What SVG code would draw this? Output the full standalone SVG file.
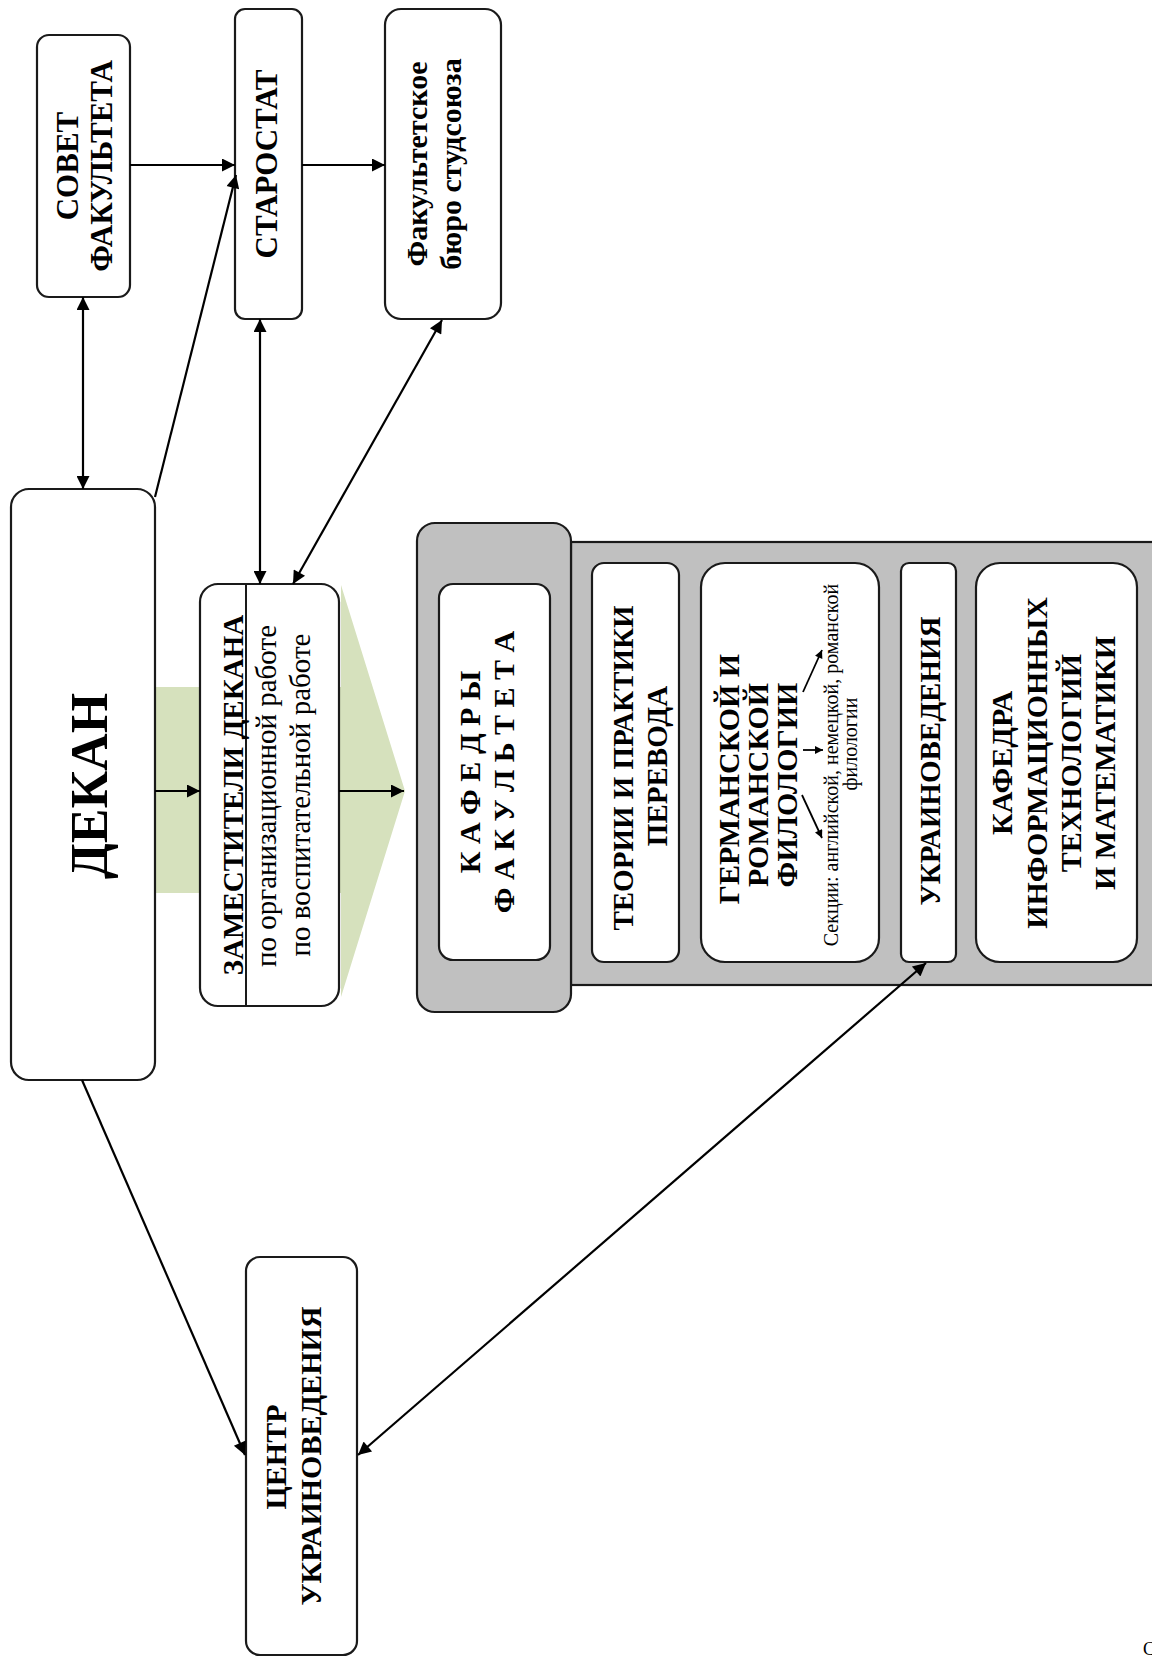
<svg xmlns="http://www.w3.org/2000/svg" width="1152" height="1657" viewBox="0 0 1152 1657">
<style>
.box{fill:#fff;stroke:#1a1a1a;stroke-width:2.2}
.panel{fill:#c0c0c0;stroke:#1a1a1a;stroke-width:2.2}
.t{font-family:"Liberation Serif","Times New Roman",serif;font-weight:bold;font-size:30px;fill:#000;text-anchor:middle}
.r{font-family:"Liberation Serif","Times New Roman",serif;font-size:29px;fill:#000;text-anchor:middle}
.s{font-family:"Liberation Serif","Times New Roman",serif;font-size:20px;fill:#000;text-anchor:middle}
.c{fill:none;stroke:#000;stroke-width:2.2}
.cs{fill:none;stroke:#000;stroke-width:1.8}
</style>
<defs>
<marker id="ah" viewBox="0 0 10 10" refX="10" refY="5" markerWidth="16" markerHeight="13" markerUnits="userSpaceOnUse" orient="auto-start-reverse"><path d="M0,0 L10,5 L0,10 z" fill="#000"/></marker>
<marker id="ahs" viewBox="0 0 10 10" refX="10" refY="5" markerWidth="9" markerHeight="8" markerUnits="userSpaceOnUse" orient="auto-start-reverse"><path d="M0,0 L10,5 L0,10 z" fill="#000"/></marker>
</defs>

<path id="green-arrow" d="M150,687 L341,687 L341,585 L405,791 L341,997 L341,893 L150,893 Z" fill="#d6e1bd"/>

<g id="panel">
<rect class="panel" x="571" y="542" width="600" height="443"/>
<rect class="panel" x="417" y="523" width="154" height="489" rx="18"/>
</g>

<g id="sovet">
<rect class="box" x="37" y="35" width="93" height="262" rx="12"/>
<text class="t" style="font-size:31px" transform="translate(78,166) rotate(-90)">СОВЕТ</text>
<text class="t" style="font-size:31px" transform="translate(112,166) rotate(-90)">ФАКУЛЬТЕТА</text>
</g>

<g id="starostat">
<rect class="box" x="235" y="9" width="67" height="310" rx="10"/>
<text class="t" style="font-size:31px" transform="translate(277,164) rotate(-90)">СТАРОСТАТ</text>
</g>

<g id="buro">
<rect class="box" x="385" y="9" width="116" height="310" rx="16"/>
<text class="t" transform="translate(427,164) rotate(-90)">Факультетское</text>
<text class="t" transform="translate(461,164) rotate(-90)">бюро студсоюза</text>
</g>

<g id="dekan">
<rect class="box" x="11" y="489" width="144" height="591" rx="18"/>
<text class="t" style="font-size:52px" transform="translate(107,786) rotate(-90)">ДЕКАН</text>
</g>

<g id="zam">
<rect class="box" x="200" y="584" width="139" height="422" rx="18"/>
<line x1="246" y1="584" x2="246" y2="1006" stroke="#1a1a1a" stroke-width="2"/>
<text class="t" style="font-size:29px" transform="translate(243,795) rotate(-90)">ЗАМЕСТИТЕЛИ ДЕКАНА</text>
<text class="r" transform="translate(276,796) rotate(-90)">по организационной работе</text>
<text class="r" transform="translate(310,795) rotate(-90)">по воспитательной работе</text>
</g>

<g id="kafedry">
<rect class="box" x="439" y="584" width="111" height="376" rx="14"/>
<text class="t" transform="translate(480,772) rotate(-90)">К А Ф Е Д Р Ы</text>
<text class="t" transform="translate(514,772) rotate(-90)">Ф А К У Л Ь Т Е Т А</text>
</g>

<g id="teorii">
<rect class="box" x="592" y="563" width="87" height="399" rx="12"/>
<text class="t" style="font-size:29px" transform="translate(633,768) rotate(-90)">ТЕОРИИ И ПРАКТИКИ</text>
<text class="t" style="font-size:29px" transform="translate(667,766) rotate(-90)">ПЕРЕВОДА</text>
</g>

<g id="german">
<rect class="box" x="701" y="563" width="178" height="399" rx="24"/>
<text class="t" transform="translate(739,779) rotate(-90)">ГЕРМАНСКОЙ И</text>
<text class="t" transform="translate(768,785) rotate(-90)">РОМАНСКОЙ</text>
<text class="t" transform="translate(797,785) rotate(-90)">ФИЛОЛОГИИ</text>
<text class="s" transform="translate(838,765) rotate(-90)">Секции: английской, немецкой, романской</text>
<text class="s" transform="translate(857,744) rotate(-90)">филологии</text>
<line class="cs" x1="803" y1="692" x2="822" y2="650" marker-end="url(#ahs)"/>
<line class="cs" x1="803" y1="750" x2="823" y2="750" marker-end="url(#ahs)"/>
<line class="cs" x1="802" y1="795" x2="822" y2="838" marker-end="url(#ahs)"/>
</g>

<g id="ukr">
<rect class="box" x="901" y="563" width="55" height="399" rx="8"/>
<text class="t" style="font-size:29px" transform="translate(940,761) rotate(-90)">УКРАИНОВЕДЕНИЯ</text>
</g>

<g id="inf">
<rect class="box" x="976" y="563" width="161" height="399" rx="24"/>
<text class="t" transform="translate(1012,763) rotate(-90)">КАФЕДРА</text>
<text class="t" transform="translate(1047,763) rotate(-90)">ИНФОРМАЦИОННЫХ</text>
<text class="t" transform="translate(1081,763) rotate(-90)">ТЕХНОЛОГИЙ</text>
<text class="t" transform="translate(1115,763) rotate(-90)">И МАТЕМАТИКИ</text>
</g>

<g id="centr">
<rect class="box" x="246" y="1257" width="111" height="398" rx="14"/>
<text class="t" transform="translate(286,1457) rotate(-90)">ЦЕНТР</text>
<text class="t" transform="translate(321,1456) rotate(-90)">УКРАИНОВЕДЕНИЯ</text>
</g>

<g id="connectors">
<line class="c" x1="83" y1="297" x2="83" y2="489" marker-start="url(#ah)" marker-end="url(#ah)"/>
<line class="c" x1="130" y1="165" x2="235" y2="165" marker-end="url(#ah)"/>
<line class="c" x1="302" y1="165" x2="385" y2="165" marker-end="url(#ah)"/>
<line class="c" x1="155" y1="497" x2="236" y2="175" marker-end="url(#ah)"/>
<line class="c" x1="260" y1="319" x2="260" y2="584" marker-start="url(#ah)" marker-end="url(#ah)"/>
<line class="c" x1="442" y1="320" x2="293" y2="584" marker-start="url(#ah)" marker-end="url(#ah)"/>
<line class="c" x1="155" y1="791" x2="200" y2="791" marker-end="url(#ah)"/>
<line class="c" x1="339" y1="791" x2="404" y2="791" marker-end="url(#ah)"/>
<line class="c" x1="82" y1="1080" x2="245" y2="1455" marker-end="url(#ah)"/>
<line class="c" x1="926" y1="963" x2="358" y2="1455" marker-start="url(#ah)" marker-end="url(#ah)"/>
</g>

<text x="1143" y="1655" style="font-family:'Liberation Serif',serif;font-size:18px">С</text>
</svg>
